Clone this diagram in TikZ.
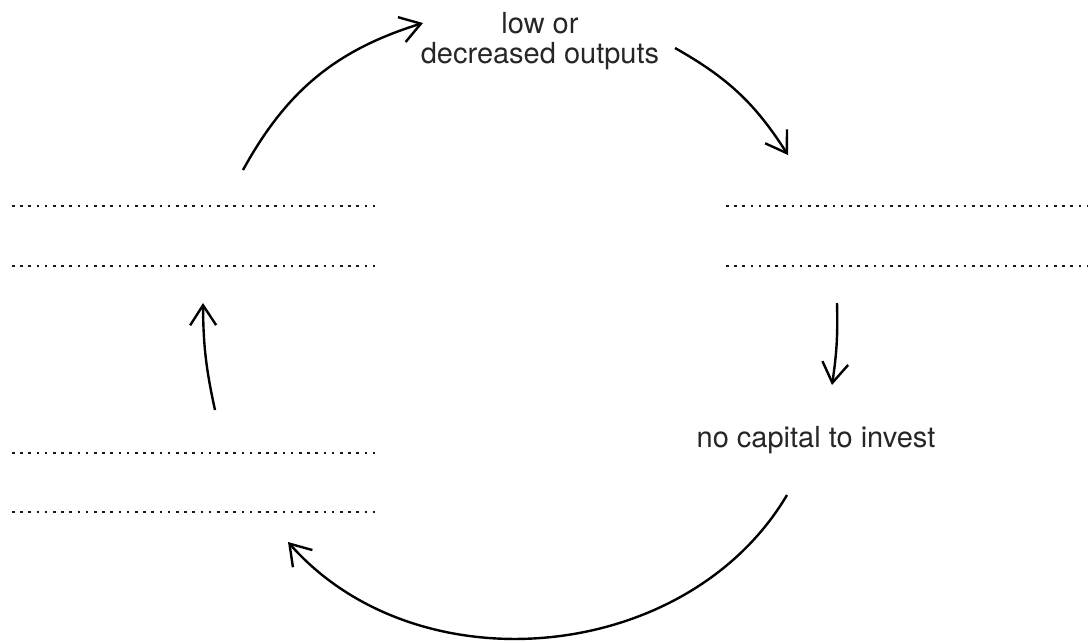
\documentclass[tikz,border=0pt]{standalone}
\usepackage{fontspec}
\setmainfont{TeX Gyre Heros}
\usetikzlibrary{arrows.meta}
\begin{document}
\begin{tikzpicture}[x=0.5pt, y=-0.5pt, font=\fontsize{14.5}{15}\selectfont,
      >={Straight Barb[length=10pt,width=13pt]},
      labelnode/.style={inner sep=0pt, align=center, text=black!85},
      blankline/.style={line width=1.3pt, dash pattern=on 1.3pt off 2.8pt, black!90},
      cyclearr/.style={->, line width=1.2pt}]
    \useasboundingbox (0,0) rectangle (1088,643);
    \node[labelnode] (outputs) at (540,41) {low or\\decreased outputs};
    \node[labelnode, anchor=base] (capital) at (816,447) {no capital to invest};
    % answer lines
    \foreach \y in {206,266,453,512} \draw[blankline] (12,\y) -- (376,\y);
    \foreach \y in {206,266} \draw[blankline] (726,\y) -- (1088,\y);
    % arrow ends
    \coordinate (lefttop)    at (243,170);
    \coordinate (outin)      at (423,23);
    \coordinate (outout)     at (675,48);
    \coordinate (righttop)   at (788,155);
    \coordinate (rightbot)   at (837,303);
    \coordinate (capin)      at (832,385);
    \coordinate (capout)     at (787,495);
    \coordinate (leftlow)    at (288,542);
    \coordinate (leftlowtop) at (215,410);
    \coordinate (leftbot)    at (203,303);
    \draw[cyclearr] (lefttop) to[bend left=22] (outin);
    \draw[cyclearr] (outout) to[bend left=14] (righttop);
    \draw[cyclearr] (rightbot) to[bend left=5] (capin);
    \draw[cyclearr] (capout) to[bend left=54] (leftlow);
    \draw[cyclearr] (leftlowtop) to[bend left=6] (leftbot);
  \end{tikzpicture}
\end{document}
